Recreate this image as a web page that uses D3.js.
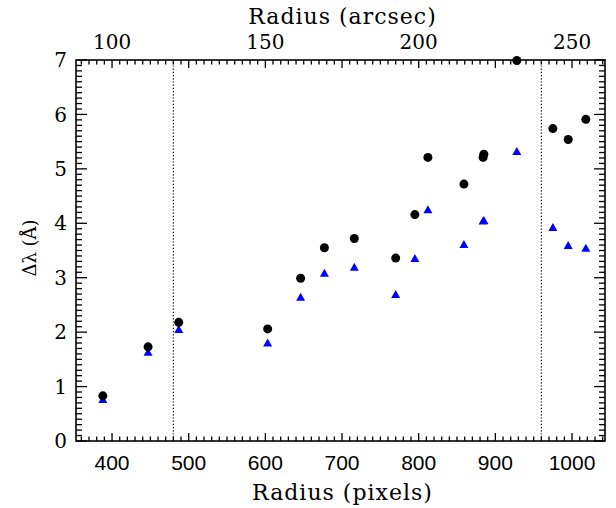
<!DOCTYPE html>
<html>
<head>
<meta charset="utf-8">
<script src="https://cdn.jsdelivr.net/npm/d3@7"></script>
<style>
  html, body { margin: 0; padding: 0; background: #fff; }
  svg { display: block; }
</style>
</head>
<body>
<svg id="chart" width="616" height="508"></svg>
<script>
// ---- data ----
const radiusPx   = [388, 447, 487, 603, 646, 677, 716, 770, 795, 812, 859, 884, 885, 928, 975, 995, 1018];
const circleVals = [0.83, 1.73, 2.18, 2.06, 2.99, 3.55, 3.72, 3.36, 4.16, 5.21, 4.72, 5.21, 5.27, 6.99, 5.74, 5.54, 5.91];
const triVals    = [0.77, 1.64, 2.06, 1.81, 2.65, 3.09, 3.20, 2.70, 3.36, 4.26, 3.62, 4.05, 4.06, 5.33, 3.93, 3.60, 3.55];
const xTicks     = [400, 500, 600, 700, 800, 900, 1000];
const topTickLabels = [100, 150, 200, 250];   // arcsec = pixels / 4
const yTicks     = [0, 1, 2, 3, 4, 5, 6, 7];
const dividers   = [480, 960];
const xDomain    = [353, 1043];
const yDomain    = [0, 7];

// ---- layout ----
const L = 76, R = 605, T = 60, B = 441;
const svg = d3.select("#chart");
const x = d3.scaleLinear().domain(xDomain).range([L, R]);
const y = d3.scaleLinear().domain(yDomain).range([B, T]);

const serif = "'DejaVu Serif', serif";
const sans = "'Liberation Sans', Arial, sans-serif";
const xMajLen = 8, xMinLen = 4.5, yMajLen = 11, yMinLen = 6;
const tw0 = 1.3; // tick thickness

const xMinor = d3.range(360, 1041, 10).filter(v => v % 100 !== 0);
const yMinor = d3.range(1, 70).filter(v => v % 10 !== 0).map(v => v / 10);

// ticks drawn as thin filled bars, inward on all four sides
const xAll = xTicks.map(v => ({ v, len: xMajLen })).concat(xMinor.map(v => ({ v, len: xMinLen })));
const yAll = yTicks.map(v => ({ v, len: yMajLen })).concat(yMinor.map(v => ({ v, len: yMinLen })));
const tickG = svg.append("g").attr("fill", "#000");
tickG.selectAll("rect.xb").data(xAll).join("rect").attr("class", "xb")
  .attr("x", d => x(d.v) - tw0 / 2).attr("width", tw0)
  .attr("y", d => B - d.len).attr("height", d => d.len);
tickG.selectAll("rect.xt").data(xAll).join("rect").attr("class", "xt")
  .attr("x", d => x(d.v) - tw0 / 2).attr("width", tw0)
  .attr("y", T).attr("height", d => d.len);
tickG.selectAll("rect.yl").data(yAll).join("rect").attr("class", "yl")
  .attr("y", d => y(d.v) - tw0 / 2).attr("height", tw0)
  .attr("x", L).attr("width", d => d.len);
tickG.selectAll("rect.yr").data(yAll).join("rect").attr("class", "yr")
  .attr("y", d => y(d.v) - tw0 / 2).attr("height", tw0)
  .attr("x", d => R - d.len).attr("width", d => d.len);

// frame
svg.append("rect").attr("x", L).attr("y", T).attr("width", R - L).attr("height", B - T)
  .attr("fill", "none").attr("stroke", "#000").attr("stroke-width", 1.6);

// tick labels
svg.append("g").selectAll("text").data(xTicks).join("text")
  .attr("x", d => x(d)).attr("y", 470).attr("text-anchor", "middle")
  .attr("font-family", sans).attr("font-size", 21).text(d3.format("d"));
svg.append("g").selectAll("text").data(topTickLabels).join("text")
  .attr("x", d => x(d * 4)).attr("y", 49).attr("text-anchor", "middle")
  .attr("font-family", serif).attr("font-size", 20).text(d3.format("d"));
svg.append("g").selectAll("text").data(yTicks).join("text")
  .attr("x", L - 9).attr("y", d => y(d)).attr("dy", "0.36em").attr("text-anchor", "end")
  .attr("font-family", serif).attr("font-size", 20).text(d3.format("d"));

// dotted dividers
svg.append("g").selectAll("line").data(dividers).join("line")
  .attr("x1", d => x(d)).attr("x2", d => x(d))
  .attr("y1", y(yDomain[0])).attr("y2", y(yDomain[1]))
  .attr("stroke", "#000").attr("stroke-width", 1.2).attr("stroke-dasharray", "1.2,2");

// points
const pts = radiusPx.map((r, i) => ({ r, c: circleVals[i], t: triVals[i] }));
const tw = 9, th = 8;
svg.append("g").selectAll("path").data(pts).join("path")
  .attr("transform", d => `translate(${x(d.r)},${y(d.t)})`)
  .attr("d", `M0,${-th / 2}L${tw / 2},${th / 2}L${-tw / 2},${th / 2}Z`)
  .attr("fill", "#0000ff");
svg.append("g").selectAll("circle").data(pts).join("circle")
  .attr("cx", d => x(d.r)).attr("cy", d => y(d.c)).attr("r", 4.5)
  .attr("fill", "#000");

// titles
const cx = (L + R) / 2 + 2;
svg.append("text").attr("x", cx).attr("y", 24).attr("text-anchor", "middle")
  .attr("font-family", serif).attr("font-size", 22).attr("letter-spacing", 1).text("Radius (arcsec)");
svg.append("text").attr("x", cx).attr("y", 500).attr("text-anchor", "middle")
  .attr("font-family", serif).attr("font-size", 22).attr("letter-spacing", 1).text("Radius (pixels)");
svg.append("text").attr("transform", `translate(36,248) rotate(-90)`).attr("text-anchor", "middle")
  .attr("font-family", serif).attr("font-size", 18).text("Δλ (Å)");
</script>
</body>
</html>
